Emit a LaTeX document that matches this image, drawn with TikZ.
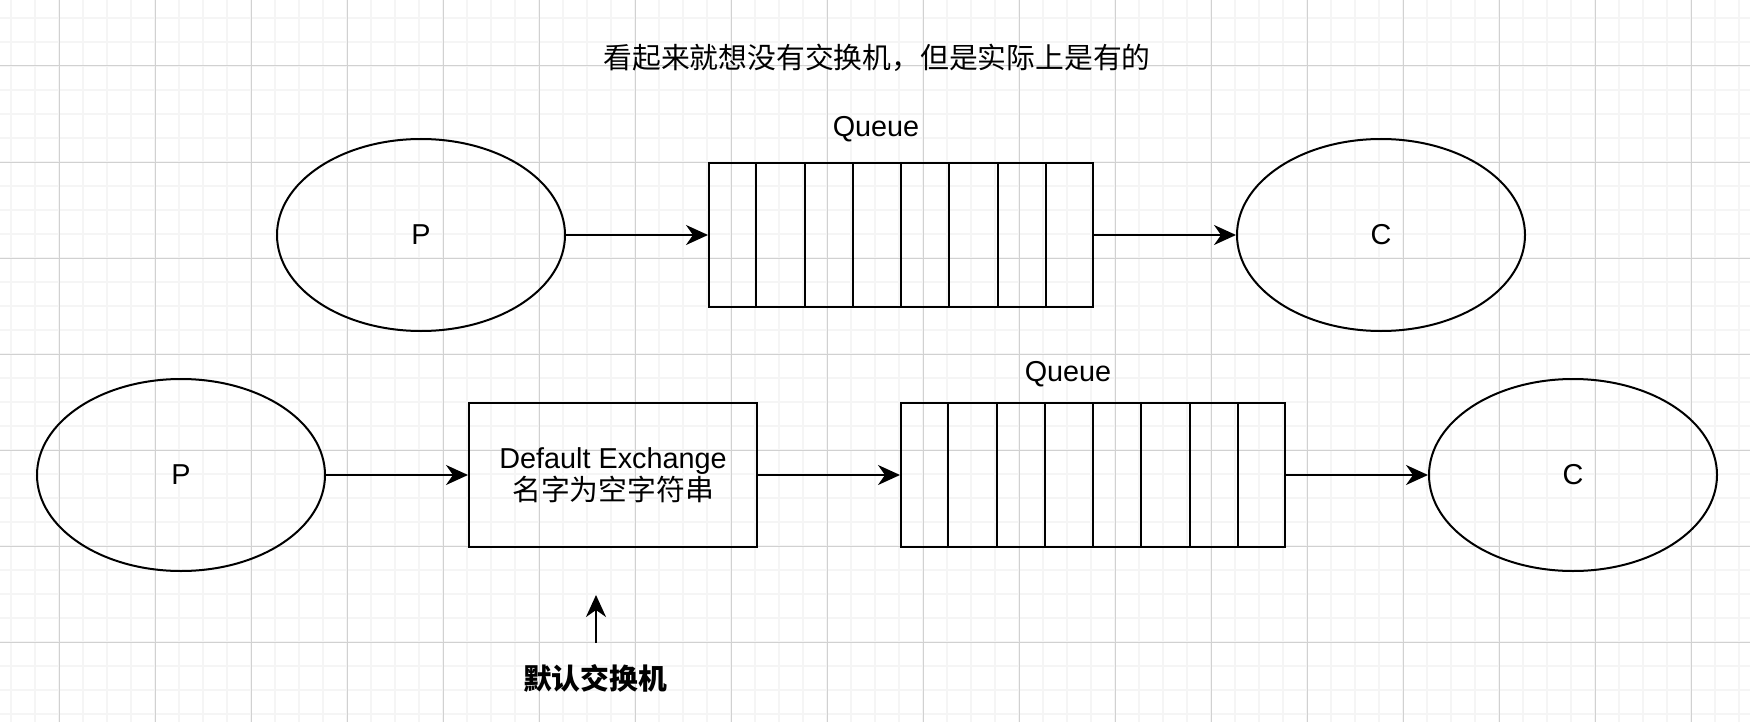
\documentclass[tikz,border=0pt]{standalone}
\usepackage{fontspec}
\setmainfont{Liberation Sans}
\newfontfamily\cjk{Noto Sans CJK SC}
\usetikzlibrary{shapes.geometric,arrows.meta,calc}

\tikzset{
  every node/.style={font=\fontsize{14.4}{17}\selectfont},
  role/.style={draw, line width=1pt, ellipse, minimum width=144pt, minimum height=96pt, inner sep=0pt},
  queuebox/.style={draw, line width=1pt, rectangle, minimum width=192pt, minimum height=72pt, inner sep=0pt},
  exbox/.style={draw, line width=1pt, rectangle, minimum width=144pt, minimum height=72pt, inner sep=0pt, align=center},
  flow/.style={line width=1pt, -{Stealth[length=11pt, width=10pt, inset=3.5pt]}},
}

\begin{document}
\begin{tikzpicture}[x=0.5pt, y=-0.5pt]
        \useasboundingbox [fill=white] (0,0) rectangle (1750,722);

        % grid
        \foreach \k in {0,...,72}
          \draw [color=black!4, line width=0.9pt] ({11+24*\k},0) -- ({11+24*\k},722);
        \foreach \k in {0,...,29}
          \draw [color=black!4, line width=0.9pt] (0,{18+24*\k}) -- (1750,{18+24*\k});
        \foreach \k in {0,...,18}
          \draw [color=black!18, line width=0.5pt] ({59+96*\k},0) -- ({59+96*\k},722);
        \foreach \k in {0,...,7}
          \draw [color=black!18, line width=0.5pt] (0,{66+96*\k}) -- (1750,{66+96*\k});

        \node (title) at (877,58) {\cjk 看起来就想没有交换机，但是实际上是有的};

        % top row
        \node [role]     (p1) at (421,235)  {P};
        \node [queuebox] (q1) at (901,235)  {};
        \node [role]     (c1) at (1381,235) {C};
        \node (q1lbl) at (876,129) {Queue};

        % bottom row
        \node [role]     (p2) at (181,475)  {P};
        \node [exbox]    (ex) at (613,475)  {Default Exchange\\[-1pt]{\cjk 名字为空字符串}};
        \node [queuebox] (q2) at (1093,475) {};
        \node [role]     (c2) at (1573,475) {C};
        \node (q2lbl) at (1068,374) {Queue};

        \foreach \q in {q1,q2}
          \foreach \i in {1,...,7}
            \draw [line width=1pt] ($(\q.north west)!\i/8!(\q.north east)$) -- ($(\q.south west)!\i/8!(\q.south east)$);

        \draw [flow] (p1) -- (q1);
        \draw [flow] (q1) -- (c1);
        \draw [flow] (p2) -- (ex);
        \draw [flow] (ex) -- (q2);
        \draw [flow] (q2) -- (c2);

        \node (exlbl) at (595,678) {\cjk\bfseries 默认交换机};
        \coordinate (ptrtail) at (596,643);
        \coordinate (ptrtip)  at (596,595);
        \draw [flow] (ptrtail) -- (ptrtip);
      \end{tikzpicture}
\end{document}
